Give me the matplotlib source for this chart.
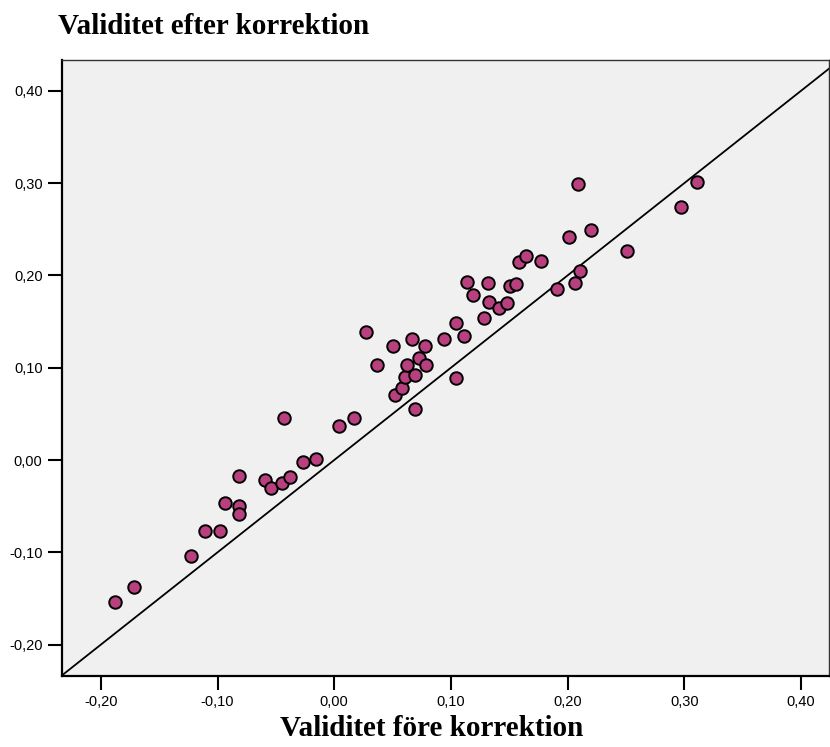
import numpy as np
from matplotlib import pyplot as plt

# Validity before / after correction
fore = [-0.188, -0.172, -0.123, -0.111, -0.098, -0.094, -0.082, -0.082, -0.082,
        -0.059, -0.054, -0.045, -0.038, -0.043, -0.027, -0.016,
        0.004, 0.017, 0.027, 0.037, 0.050, 0.052, 0.058, 0.061, 0.062, 0.067,
        0.069, 0.069, 0.073, 0.078, 0.079, 0.094, 0.104, 0.111, 0.104, 0.114,
        0.119, 0.128, 0.132, 0.133, 0.141, 0.148, 0.151, 0.156, 0.158, 0.164,
        0.177, 0.209, 0.311, 0.297, 0.201, 0.220, 0.251, 0.211, 0.206, 0.191]
efter = [-0.154, -0.138, -0.104, -0.077, -0.077, -0.047, -0.050, -0.059, -0.017,
         -0.022, -0.030, -0.025, -0.018, 0.046, -0.002, 0.001,
         0.037, 0.045, 0.139, 0.103, 0.123, 0.070, 0.078, 0.090, 0.103, 0.131,
         0.092, 0.055, 0.110, 0.124, 0.103, 0.131, 0.148, 0.134, 0.089, 0.193,
         0.179, 0.154, 0.192, 0.171, 0.165, 0.170, 0.189, 0.191, 0.215, 0.221,
         0.216, 0.299, 0.301, 0.274, 0.242, 0.249, 0.227, 0.205, 0.192, 0.185]

ticks = [-0.20, -0.10, 0.00, 0.10, 0.20, 0.30, 0.40]
ticklabels = ["-0,20", "-0,10", "0,00", "0,10", "0,20", "0,30", "0,40"]

plt.rcParams.update({"font.family": ["Liberation Sans", "DejaVu Sans"]})

fig = plt.figure(figsize=(8.3, 7.47), dpi=100)
ax = fig.add_axes([62/830, 1-676/747, (829-62)/830, (676-60)/747])
ax.set_facecolor("#f0f0f0")

ax.axline((0, 0), slope=1, color="black", lw=1.3, zorder=2)
ax.plot(fore, efter, "o", ms=9, mfc="#b8407f", mec="black", mew=1.4, zorder=3)

ax.set_xlim(-0.2333, 0.424)
ax.set_ylim(-0.234, 0.4334)
ax.set_xticks(ticks)
ax.set_xticklabels(ticklabels)
ax.set_yticks(ticks)
ax.set_yticklabels(ticklabels)
ax.tick_params(direction="out", length=10, width=1.5, labelsize=10.5, pad=4, color="black")

for side in ["left", "bottom"]:
    ax.spines[side].set_linewidth(1.6)
for side in ["top", "right"]:
    ax.spines[side].set_linewidth(1.0)
    ax.spines[side].set_color("#333333")

serif = ["Liberation Serif", "DejaVu Serif"]
fig.text(58/830, 1-27/747, "Validitet efter korrektion", family=serif,
         fontweight="bold", fontsize=21, ha="left", va="center")
fig.text(432/830, 1-728/747, "Validitet före korrektion", family=serif,
         fontweight="bold", fontsize=21, ha="center", va="center")

fig.savefig("out.png", dpi=100)
